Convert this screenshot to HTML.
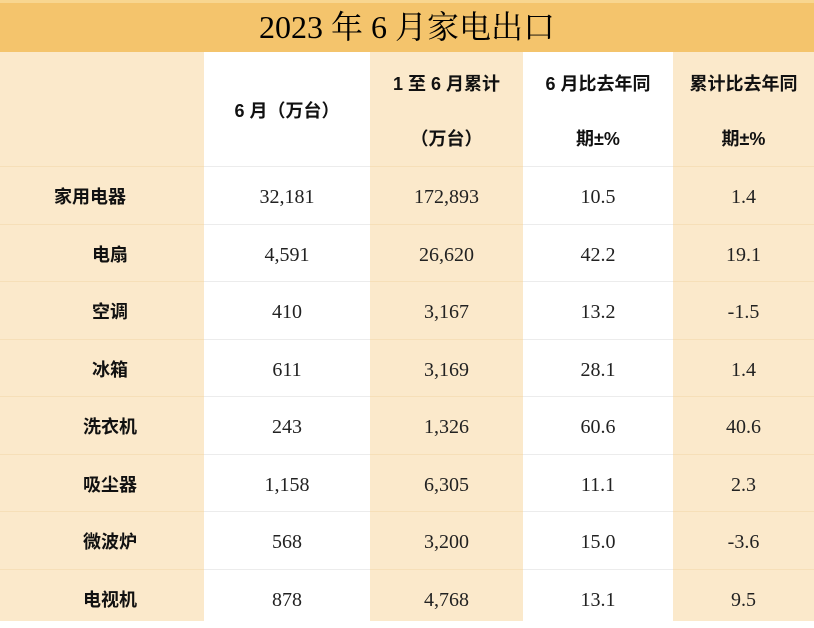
<!DOCTYPE html>
<html><head><meta charset="utf-8"><style>
body{margin:0;width:814px;height:621px;overflow:hidden;background:#fff;font-family:"Liberation Serif","Noto Serif CJK SC",serif;}
.t{position:absolute;left:0;top:0;width:814px;height:52px;background:#f4c46c;border-top:3px solid #f8d690;box-sizing:border-box;text-align:center;font-size:32px;line-height:48px;color:#000;}
.col{position:absolute;top:52px;height:569px;}
.c{position:absolute;text-align:center;color:#222;font-size:20px;}
.h{font-family:"Liberation Sans","Noto Sans CJK SC",sans-serif;font-weight:bold;font-size:18px;color:#111;}
.line{position:absolute;height:1px;}
</style></head><body>
<div class="t">2023 年 6 月家电出口</div>
<div class="col" style="left:0;width:204px;background:#fbe9cb"></div>
<div class="col" style="left:204px;width:166px;background:#fff"></div>
<div class="col" style="left:370px;width:153px;background:#fbe9cb"></div>
<div class="col" style="left:523px;width:150px;background:#fff"></div>
<div class="col" style="left:673px;width:141px;background:#fbe9cb"></div>
<div id="g"></div>
<script>
const cats=["家用电器","电扇","空调","冰箱","洗衣机","吸尘器","微波炉","电视机"];
const june=["32,181","4,591","410","611","243","1,158","568","878"];
const cum=["172,893","26,620","3,167","3,169","1,326","6,305","3,200","4,768"];
const yoy=["10.5","42.2","13.2","28.1","60.6","11.1","15.0","13.1"];
const cyoy=["1.4","19.1","-1.5","1.4","40.6","2.3","-3.6","9.5"];
const g=document.getElementById('g');
const cols=[[0,204],[204,166],[370,153],[523,150],[673,141]];
function cell(x,w,y,h,txt,cls,name){const d=document.createElement('div');d.className='c '+(cls||'');d.style.left=x+'px';d.style.width=w+'px';d.style.top=y+'px';d.style.height=h+'px';d.style.lineHeight=h+'px';d.innerHTML=txt;


g.appendChild(d);}
cell(204,166,54,114,'6 月（万台）','h','header-june');
cell(370,153,58,52,'1 至 6 月累计','h','header-cumulative-1');
cell(370,153,113,52,'（万台）','h','header-cumulative-2');
cell(523,150,58,52,'6 月比去年同','h','header-june-yoy-1');
cell(523,150,113,52,'期±%','h','header-june-yoy-2');
cell(673,141,58,52,'累计比去年同','h','header-cum-yoy-1');
cell(673,141,113,52,'期±%','h','header-cum-yoy-2');
const top0=166,rh=57.5;
for(let i=0;i<cats.length;i++){const y=top0+i*rh;
 const ln=document.createElement('div');ln.className='line';ln.style.cssText='left:0;width:814px;top:'+y+'px;background:linear-gradient(90deg,#f6dfb8 0 204px,#ececec 204px 370px,#f6dfb8 370px 523px,#ececec 523px 673px,#f6dfb8 673px)';
 
 
 g.appendChild(ln);
 const vals=[cats[i],june[i],cum[i],yoy[i],cyoy[i]];
 vals.forEach((v,j)=>{const x=j==0?(i==0?15:35):cols[j][0];const w=j==0?150:cols[j][1];cell(x,w,y+3,rh-1,v,j==0?'h':'',j==0?'row-label':'cell-value');});
}
</script>
</body></html>
